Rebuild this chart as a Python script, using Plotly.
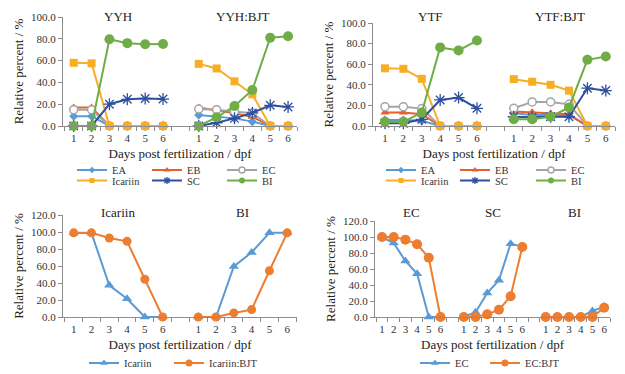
import plotly.graph_objects as go

FONT = "Liberation Serif"

days = [1, 2, 3, 4, 5, 6]
day_labels = [str(d) for d in days]

# ---------- top-left: YYH | YYH:BJT ----------
yyh_EA = [9, 9, 0, 0, 0, 0]
yyh_EB = [17, 17, 0, 0, 0, 0]
yyh_EC = [15, 15, 0, 0, 0, 0]
yyh_Icariin = [58, 57.5, 0, 0, 0, 0]
yyh_SC = [0, 0, 20, 24.5, 25.3, 24.7]
yyh_BI = [0, 0, 79.6, 76, 75, 75.3]

yyhbjt_EA = [10, 8.5, 7, 4, 0, 0]
yyhbjt_EB = [17, 14.6, 11.6, 8.5, 0, 0]
yyhbjt_EC = [15.5, 15, 13, 12, 0, 0]
yyhbjt_Icariin = [57, 52.8, 41, 29, 0, 0]
yyhbjt_SC = [0, 3, 7, 12, 19, 17.5]
yyhbjt_BI = [0, 8, 18.3, 33, 81, 82.3]

# ---------- top-right: YTF | YTF:BJT ----------
ytf_EA = [5.8, 5.8, 5, 0, 0, 0]
ytf_EB = [13, 13, 11.4, 0, 0, 0]
ytf_EC = [18.8, 18.8, 16.9, 0, 0, 0]
ytf_Icariin = [56, 55.5, 45.8, 0, 0, 0]
ytf_SC = [2.6, 2.6, 6.5, 25.3, 27.6, 17.2]
ytf_BI = [4.2, 4.2, 13, 76.3, 73.4, 83]

ytfbjt_EA = [12.3, 10.7, 10.7, 10.5, 0, 0]
ytfbjt_EB = [14, 13.3, 12.3, 11.4, 0, 0]
ytfbjt_EC = [17.2, 23.4, 23.4, 21, 0, 0]
ytfbjt_Icariin = [45.5, 43, 40, 34.4, 0, 0]
ytfbjt_SC = [9, 8.4, 9, 9, 36.7, 34.4]
ytfbjt_BI = [6.5, 6.5, 9, 18, 64.3, 67.5]

# ---------- bottom-left: Icariin | BI ----------
icariin_Icariin = [98.8, 98.8, 37.3, 21.4, 0, 0]
icariin_IcariinBJT = [99, 99, 93, 89, 44.4, 0]
bi_Icariin = [0, 0, 59.5, 76, 99, 99]
bi_IcariinBJT = [0, 0, 4.8, 8.7, 54.4, 99]

# ---------- bottom-right: EC | SC | BI ----------
ec_EC = [100, 92.5, 70, 54, 0, 0]
ec_ECBJT = [100, 100, 96.7, 91, 74, 0]
sc_EC = [0, 6, 30, 46, 91.7, 88]
sc_ECBJT = [0, 0, 3.3, 9, 26, 87.5]
bi_EC = [0, 0, 0, 0, 7.5, 13]
bi_ECBJT = [0, 0, 0, 0, 0, 11.7]

top_left_titles = ["YYH", "YYH:BJT"]
top_right_titles = ["YTF", "YTF:BJT"]
bottom_left_titles = ["Icariin", "BI"]
bottom_right_titles = ["EC", "SC", "BI"]

GAP = 7  # category slots per group (6 days + 1 empty slot)
OFF = 8  # page body margin
W, H = 625 - OFF, 374 - OFF


def fx(px):
    return (px - OFF) / W


def fy(py):
    return 1 - (py - OFF) / H


def positions(n_groups):
    return [g * GAP + d for g in range(n_groups) for d in days]


def series_xy(groups):
    xs, ys = [], []
    for g, vals in enumerate(groups):
        if g > 0:
            xs.append(g * GAP)
            ys.append(None)
        xs += [g * GAP + d for d in days]
        ys += list(vals)
    return xs, ys


C_EA = "#5B9BD5"
C_EB = "#E8612C"
C_EC = "#A5A5A5"
C_IC = "#F7AE24"
C_SC = "#2E4F9F"
C_BI = "#70AD47"
C_BLUE = "#5B9BD5"
C_ORANGE = "#ED7D31"


def mk_style(symbol, color, size, open_=False, asterisk=False):
    if open_:
        return dict(symbol=symbol, size=size, color="white", line=dict(color=color, width=1.5))
    if asterisk:
        return dict(symbol=symbol, size=size, color=color, line=dict(color=color, width=1.3))
    return dict(symbol=symbol, size=size, color=color)


six_styles = [
    ("EA", C_EA, "diamond", 7, 5, False, False),
    ("EB", C_EB, "triangle-up", 8, 6, False, False),
    ("EC", C_EC, "circle", 8, 6, True, False),
    ("Icariin", C_IC, "square", 8, 5, False, False),
    ("SC", C_SC, "asterisk-open", 10, 6, False, True),
    ("BI", C_BI, "circle", 10, 6, False, False),
]

fig = go.Figure()

legend_layouts = {}
legend_counter = [0]


def add_legend(x_px, y_px, size=10.5):
    legend_counter[0] += 1
    key = "legend" if legend_counter[0] == 1 else f"legend{legend_counter[0]}"
    legend_layouts[key] = dict(
        x=fx(x_px), y=fy(y_px), xanchor="left", yanchor="middle",
        bgcolor="rgba(0,0,0,0)", borderwidth=0,
        font=dict(family=FONT, size=size, color="#333333"),
        itemwidth=30, tracegroupgap=0,
    )
    return key


def add_series(name, color, marker, legend_marker, groups, xa, ya, lx, ly):
    xs, ys = series_xy(groups)
    fig.add_trace(go.Scatter(
        x=xs, y=ys, name=name, mode="lines+markers",
        line=dict(color=color, width=2), marker=marker,
        xaxis=xa, yaxis=ya, showlegend=False, cliponaxis=False, connectgaps=False,
    ))
    lk = add_legend(lx, ly)
    # legend-only proxy (no data) so the legend key uses a small marker
    fig.add_trace(go.Scatter(
        x=[None], y=[None], name=name, mode="lines+markers",
        line=dict(color=color, width=2), marker=legend_marker,
        xaxis=xa, yaxis=ya, showlegend=True, legend=lk,
    ))


top_left_data = [
    (yyh_EA, yyhbjt_EA), (yyh_EB, yyhbjt_EB), (yyh_EC, yyhbjt_EC),
    (yyh_Icariin, yyhbjt_Icariin), (yyh_SC, yyhbjt_SC), (yyh_BI, yyhbjt_BI),
]
top_right_data = [
    (ytf_EA, ytfbjt_EA), (ytf_EB, ytfbjt_EB), (ytf_EC, ytfbjt_EC),
    (ytf_Icariin, ytfbjt_Icariin), (ytf_SC, ytfbjt_SC), (ytf_BI, ytfbjt_BI),
]

leg_cols_tl = [72, 147, 222]
leg_cols_tr = [381, 455, 531]
leg_rows_top = [170, 180.5]

for data, sfx, cols in [(top_left_data, "", leg_cols_tl), (top_right_data, "2", leg_cols_tr)]:
    for i, ((name, col, sym, sz, lsz, op, ast), groups) in enumerate(zip(six_styles, data)):
        add_series(name, col, mk_style(sym, col, sz, op, ast), mk_style(sym, col, lsz, op, ast),
                   groups, "x" + sfx, "y" + sfx, cols[i % 3], leg_rows_top[i // 3])

add_series("Icariin", C_BLUE, mk_style("triangle-up", C_BLUE, 9), mk_style("triangle-up", C_BLUE, 7),
           (icariin_Icariin, bi_Icariin), "x3", "y3", 84, 363)
add_series("Icariin:BJT", C_ORANGE, mk_style("circle", C_ORANGE, 9), mk_style("circle", C_ORANGE, 7),
           (icariin_IcariinBJT, bi_IcariinBJT), "x3", "y3", 169, 363)
add_series("EC", C_BLUE, mk_style("triangle-up", C_BLUE, 9), mk_style("triangle-up", C_BLUE, 7),
           (ec_EC, sc_EC, bi_EC), "x4", "y4", 415, 363)
add_series("EC:BJT", C_ORANGE, mk_style("circle", C_ORANGE, 10), mk_style("circle", C_ORANGE, 7),
           (ec_ECBJT, sc_ECBJT, bi_ECBJT), "x4", "y4", 485, 363)

AX_COL = "#8C8C8C"
TICK_FONT = dict(family=FONT, size=11, color="#333333")
TITLE_FONT = dict(family=FONT, size=13, color="#222222")


def xaxis(x0, x1, rng, n_groups, anchor):
    return dict(
        domain=[fx(x0), fx(x1)], range=rng, anchor=anchor, automargin=False,
        showgrid=False, zeroline=False, showline=True, linecolor=AX_COL, linewidth=1,
        tickmode="array", tickvals=positions(n_groups), ticktext=day_labels * n_groups,
        ticks="", ticklabelstandoff=2, tickfont=TICK_FONT,
        minor=dict(ticks="outside", ticklen=4, tickcolor=AX_COL, tick0=0.5, dtick=1, showgrid=False),
        title=dict(text="Days post fertilization / dpf", font=TITLE_FONT, standoff=5),
        fixedrange=True,
    )


def yaxis(y_top, y_bottom, rng, anchor):
    return dict(
        domain=[fy(y_bottom), fy(y_top)], range=rng, anchor=anchor, automargin=False,
        showgrid=False, zeroline=False, showline=True, linecolor=AX_COL, linewidth=1,
        dtick=20, tickformat=".1f", ticks="outside", ticklen=4, tickcolor=AX_COL,
        tickfont=TICK_FONT,
        title=dict(text="Relative percent / %", font=TITLE_FONT, standoff=4),
        fixedrange=True,
    )


annotations = []


def add_titles(titles, xref, y_px):
    for g, t in enumerate(titles):
        annotations.append(dict(
            text=t, x=g * GAP + 3.5, y=fy(y_px), xref=xref, yref="paper",
            showarrow=False, xanchor="center", yanchor="middle",
            font=dict(family=FONT, size=13, color="#222222"),
        ))


add_titles(top_left_titles, "x", 16)
add_titles(top_right_titles, "x2", 16)
add_titles(bottom_left_titles, "x3", 213)
add_titles(bottom_right_titles, "x4", 213)

fig.update_layout(
    template="none",
    width=W, height=H,
    margin=dict(l=0, r=0, t=0, b=0, autoexpand=False),
    paper_bgcolor="white", plot_bgcolor="white",
    font=dict(family=FONT, size=11, color="#333333"),
    showlegend=True,
    xaxis=xaxis(63, 297, [0.4, 13.5], 2, "y"),
    yaxis=yaxis(17, 126, [0, 100], "x"),
    xaxis2=xaxis(373, 615, [0.35, 13.5], 2, "y2"),
    yaxis2=yaxis(23, 126, [0, 100], "x2"),
    xaxis3=xaxis(63, 297, [0.4, 13.55], 2, "y3"),
    yaxis3=yaxis(215, 317, [0, 120], "x3"),
    xaxis4=xaxis(375, 610, [0.4, 20.5], 3, "y4"),
    yaxis4=yaxis(221, 317, [0, 120], "x4"),
    annotations=annotations,
    **legend_layouts,
)

fig.write_html("out.html")
